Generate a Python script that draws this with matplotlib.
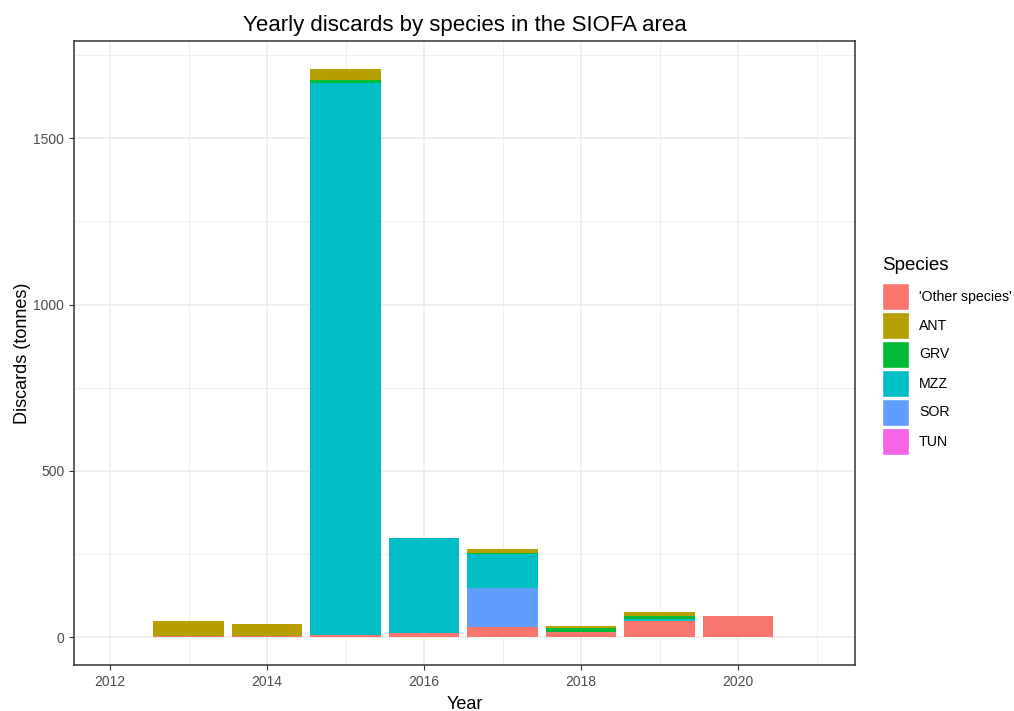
import numpy as np
import matplotlib.pyplot as plt

plt.rcParams['font.family'] = ['Liberation Sans', 'DejaVu Sans']

years = [2013, 2014, 2015, 2016, 2017, 2018, 2019, 2020]
species = ["'Other species'", 'ANT', 'GRV', 'MZZ', 'SOR', 'TUN']
colors = ['#F8766D', '#B79F00', '#00BA38', '#00BFC4', '#619CFF', '#F564E3']

# tonnes per year
other = [5, 3, 6, 12, 32, 17, 49, 63]
ant = [43, 38, 33, 0, 11, 7, 12, 0]
grv = [0, 0, 7, 0, 4, 10, 9, 0]
mzz = [0, 0, 1661, 287, 103, 0, 6, 0]
sor = [0, 0, 0, 0, 115, 0, 0, 0]
tun = [0, 0, 0, 0, 0, 0, 0, 0]

values = {"'Other species'": other, 'ANT': ant, 'GRV': grv,
          'MZZ': mzz, 'SOR': sor, 'TUN': tun}
# bottom-to-top stacking order seen in the chart
stack_order = ["'Other species'", 'TUN', 'SOR', 'MZZ', 'GRV', 'ANT']

fig = plt.figure(figsize=(10.14, 7.11), dpi=100)
ax = fig.add_axes([74/1014, 1-665/711, (855-74)/1014, (665-41)/711])

bottom = np.zeros(len(years))
for sp in stack_order:
    v = np.array(values[sp], dtype=float)
    ax.bar(years, v, width=0.9, bottom=bottom, color=colors[species.index(sp)],
           linewidth=0, zorder=3)
    bottom += v

ax.set_xlim(2011.54, 2021.49)
ax.set_ylim(-83, 1792)
ax.set_xticks([2012, 2014, 2016, 2018, 2020])
ax.set_xticks([2013, 2015, 2017, 2019, 2021], minor=True)
ax.set_yticks([0, 500, 1000, 1500])
ax.set_yticks([250, 750, 1250, 1750], minor=True)
ax.grid(True, which='major', color='#EBEBEB', linewidth=1.1, zorder=0)
ax.grid(True, which='minor', color='#EBEBEB', linewidth=0.55, zorder=0)
ax.tick_params(which='major', length=3.5, color='#333333', labelsize=10,
               labelcolor='#4D4D4D', width=0.8)
ax.tick_params(which='minor', length=0)
for s in ax.spines.values():
    s.set_color('#333333')
    s.set_linewidth(1.1)

ax.set_xlabel('Year', fontsize=13, labelpad=5)
ax.set_ylabel('Discards (tonnes)', fontsize=13, labelpad=2)
ax.set_title('Yearly discards by species in the SIOFA area', fontsize=16, pad=7)

# legend
fig.text(882/1014, 1-265/711, 'Species', fontsize=13.5, va='center', ha='left')
for i, sp in enumerate(species):
    y0 = 283 + i*29
    fig.patches.append(plt.Rectangle((882/1014, 1-(y0+27)/711), 27/1014, 27/711,
                                     transform=fig.transFigure, facecolor=colors[i],
                                     edgecolor='white', linewidth=1))
    fig.text(919/1014, 1-(y0+13.5)/711, sp, fontsize=10.2, va='center', ha='left')

fig.savefig('out.png', dpi=100)
